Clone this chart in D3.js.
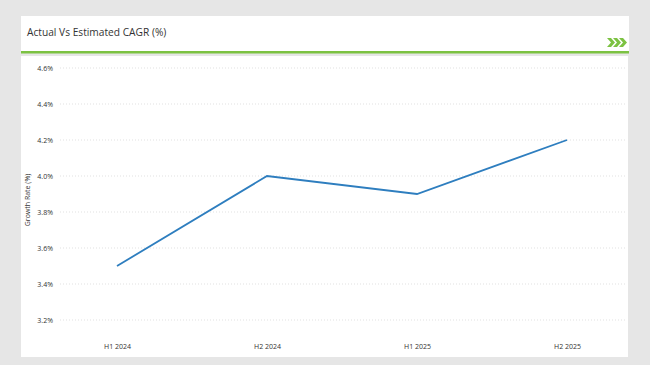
<!DOCTYPE html>
<html>
<head>
<meta charset="utf-8">
<script src="https://d3js.org/d3.v7.min.js"></script>
<style>
  html, body { margin: 0; padding: 0; }
  body { background: #e6e6e6; width: 650px; height: 365px; overflow: hidden; }
  text { font-family: "Open Sans", "Liberation Sans", sans-serif; }
</style>
</head>
<body>
<div id="chart"></div>
<script>
// chart data
const periods = ["H1 2024", "H2 2024", "H1 2025", "H2 2025"];
const growth = [3.5, 4.0, 3.9, 4.2];
const yTicks = [3.2, 3.4, 3.6, 3.8, 4.0, 4.2, 4.4, 4.6];

const w = 650, h = 365;

const svg = d3.select("#chart")
  .append("svg")
  .attr("width", w)
  .attr("height", h);

// header panel
svg.append("rect")
  .attr("x", 21).attr("y", 16)
  .attr("width", 608).attr("height", 36)
  .attr("fill", "#fff");

svg.append("text")
  .attr("x", 27).attr("y", 36)
  .attr("font-size", 10.2)
  .attr("fill", "#333")
  .text("Actual Vs Estimated CAGR (%)");

// green rule under the header
svg.append("rect")
  .attr("x", 21).attr("y", 51)
  .attr("width", 608).attr("height", 2.5)
  .attr("fill", "#7cc242");

// chevrons
[0, 6, 12].forEach(dx => {
  svg.append("path")
    .attr("d", `M${607 + dx},38 L${611 + dx},38 L${615 + dx},42.5 L${611 + dx},47 L${607 + dx},47 L${611 + dx},42.5 Z`)
    .attr("fill", "#7cc242");
});

// chart panel
svg.append("rect")
  .attr("x", 21).attr("y", 56)
  .attr("width", 607).attr("height", 301)
  .attr("fill", "#fff");

// scales
const x = d3.scalePoint()
  .domain(periods)
  .range([117, 567]);

const y = d3.scaleLinear()
  .domain([3.0, 4.6])
  .range([356, 68]);

// gridlines
svg.append("g")
  .selectAll("line")
  .data(yTicks)
  .enter()
  .append("line")
  .attr("x1", 60).attr("x2", 625)
  .attr("y1", d => y(d)).attr("y2", d => y(d))
  .attr("stroke", "#d9d9d9")
  .attr("stroke-width", 0.8)
  .attr("stroke-dasharray", "1,2");

// y axis
const yAxis = d3.axisLeft(y)
  .tickValues(yTicks)
  .tickSize(0)
  .tickPadding(0)
  .tickFormat(d => d.toFixed(1) + "%");

svg.append("g")
  .attr("transform", "translate(53,0)")
  .call(yAxis)
  .call(g => g.select(".domain").remove())
  .selectAll("text")
  .attr("font-size", 7)
  .attr("fill", "#333")
  .attr("font-family", "'Open Sans', 'Liberation Sans', sans-serif");

// x axis
const xAxis = d3.axisBottom(x).tickSize(0).tickPadding(0);

svg.append("g")
  .attr("transform", "translate(0,344)")
  .call(xAxis)
  .call(g => g.select(".domain").remove())
  .selectAll("text")
  .attr("font-size", 7)
  .attr("fill", "#333")
  .attr("font-family", "'Open Sans', 'Liberation Sans', sans-serif");

// y axis title
svg.append("text")
  .attr("transform", "translate(30,200) rotate(-90)")
  .attr("text-anchor", "middle")
  .attr("font-size", 7)
  .attr("fill", "#333")
  .text("Growth Rate (%)");

// line
const line = d3.line()
  .x((d, i) => x(periods[i]))
  .y(d => y(d));

svg.append("path")
  .datum(growth)
  .attr("d", line)
  .attr("fill", "none")
  .attr("stroke", "#2e7ebf")
  .attr("stroke-width", 1.8);
</script>
</body>
</html>
